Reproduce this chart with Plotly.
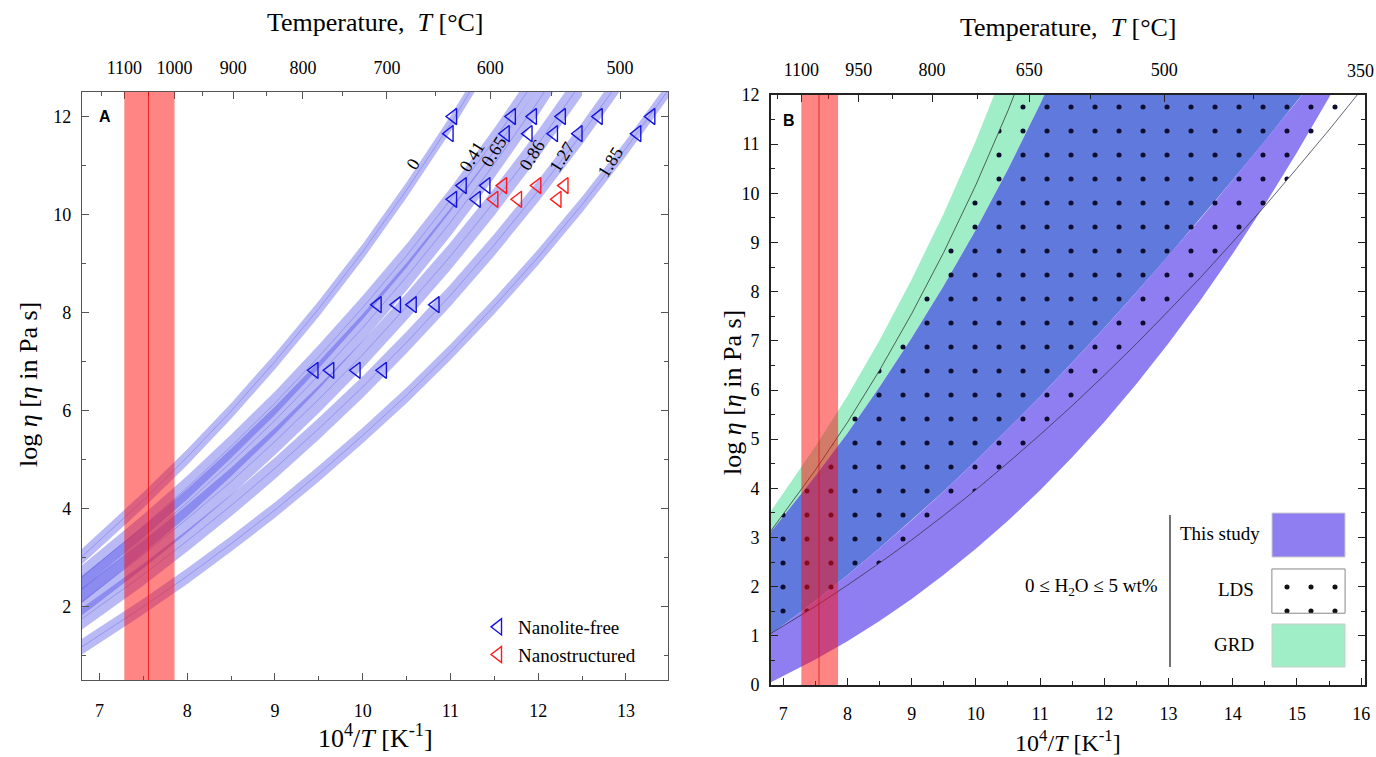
import plotly.graph_objects as go

W, H = 1376, 757
SERIF = "Liberation Serif"

# ---------------- Panel A data ----------------
xa_grid = [6.8, 7.5, 8.0, 8.5, 9.0, 9.5, 10.0, 10.5, 11.0, 11.5, 12.0, 12.5, 13.0, 13.5]
band_labels = ["0", "0.41", "0.65", "0.86", "1.27", "1.85"]
band_0 = [3.02, 4.17, 5.05, 5.99, 7.00, 8.08, 9.24, 10.50, 11.85, 13.32]
band_041 = [2.60, 3.64, 4.43, 5.27, 6.15, 7.10, 8.10, 9.16, 10.30, 11.52, 12.83]
band_065 = [2.35, 3.36, 4.12, 4.94, 5.80, 6.72, 7.69, 8.73, 9.84, 11.03, 12.31, 13.69]
band_086 = [2.10, 3.06, 3.79, 4.55, 5.37, 6.23, 7.14, 8.12, 9.15, 10.26, 11.44, 12.71]
band_127 = [1.75, 2.65, 3.34, 4.06, 4.82, 5.63, 6.48, 7.39, 8.35, 9.38, 10.48, 11.65, 12.91]
band_185 = [1.18, 2.00, 2.62, 3.28, 3.97, 4.71, 5.49, 6.31, 7.19, 8.13, 9.13, 10.20, 11.35, 12.58]
band_halfwidth = [0.16, 0.24, 0.28, 0.28, 0.22, 0.16]

nanolite_free_x = [11.03, 10.99, 11.70, 11.63, 11.94, 11.89, 12.27, 12.18, 12.69, 12.46, 13.29, 13.13,
                   11.14, 11.03, 11.41, 11.30, 10.17, 10.39, 10.57, 10.83, 9.45, 9.63, 9.93, 10.23]
nanolite_free_y = [12.0, 11.65, 12.0, 11.65, 12.0, 11.65, 12.0, 11.65, 12.0, 11.65, 12.0, 11.65,
                   10.59, 10.31, 10.59, 10.31, 8.16, 8.16, 8.16, 8.16, 6.82, 6.82, 6.82, 6.82]
nanostructured_x = [11.60, 11.50, 11.99, 11.77, 12.30, 12.22]
nanostructured_y = [10.59, 10.31, 10.59, 10.31, 10.59, 10.31]

# eruption temperature range (degC)
red_band_T = [1100, 1000]
red_center_T = 1050

# top axis temperatures
topA_major = [1100, 1000, 900, 800, 700, 600, 500]
topA_minor = [1150, 1050, 950, 850, 750, 650, 550, 450]
topB_major = [1100, 950, 800, 650, 500, 350]
topB_minor = [1175, 1025, 875, 725, 575, 425]

# ---------------- Panel B data ----------------
xb_grid = [6.8, 7.5, 8.0, 8.5, 9.0, 9.5, 10.0, 10.5, 11.0, 11.5, 12.0, 12.5, 13.0,
           13.5, 14.0, 14.5, 15.0, 15.5, 16.0]
grd_upper = [3.52, 4.85, 5.88, 7.01, 8.25, 9.59, 11.07, 12.71]
study_upper = [3.10, 4.25, 5.12, 6.06, 7.06, 8.12, 9.26, 10.49, 11.81, 13.23]
grd_lower = [1.02, 1.71, 2.23, 2.78, 3.35, 3.94, 4.56, 5.21, 5.87, 6.56, 7.26, 7.99, 8.73,
             9.49, 10.27, 11.06, 11.87, 12.69]
study_lower = [0.05, 0.52, 0.89, 1.30, 1.75, 2.24, 2.77, 3.34, 3.96, 4.63, 5.35, 6.12, 6.95,
               7.83, 8.77, 9.77, 10.83, 11.95, 13.14]
lds_upper = [3.12, 4.37, 5.34, 6.40, 7.55, 8.80, 10.17, 11.68, 13.35]
lds_lower = [1.04, 1.60, 2.03, 2.48, 2.95, 3.45, 3.97, 4.52, 5.09, 5.68, 6.30, 6.94, 7.61,
             8.29, 9.01, 9.74, 10.51, 11.29, 12.10]


def inv(T):
    return 1e4 / (T + 273.15)


def px(x):
    return x / W


def py(y):
    return 1 - y / H


fig = go.Figure()

# ---- Panel A bands ----
band_centers = [band_0, band_041, band_065, band_086, band_127, band_185]
for c, hw in zip(band_centers, band_halfwidth):
    xs = xa_grid[:len(c)]
    up = [v + hw for v in c]
    lo = [v - hw for v in c]
    fig.add_trace(go.Scatter(x=xs + xs[::-1], y=up + lo[::-1], fill="toself",
                             fillcolor="rgba(60,60,230,0.36)", mode="lines",
                             line=dict(width=0), hoverinfo="skip", showlegend=False,
                             xaxis="x", yaxis="y"))
    fig.add_trace(go.Scatter(x=xs, y=c, mode="lines",
                             line=dict(color="rgba(70,70,220,0.45)", width=0.7),
                             hoverinfo="skip", showlegend=False, xaxis="x", yaxis="y"))

fig.add_trace(go.Scatter(x=nanolite_free_x, y=nanolite_free_y, mode="markers",
                         name="Nanolite-free",
                         marker=dict(symbol="triangle-left-open", size=14,
                                     color="#1414d8", line=dict(width=1.4, color="#1414d8")),
                         xaxis="x", yaxis="y"))
fig.add_trace(go.Scatter(x=nanostructured_x, y=nanostructured_y, mode="markers",
                         name="Nanostructured",
                         marker=dict(symbol="triangle-left-open", size=14,
                                     color="#ff1a1a", line=dict(width=1.4, color="#ff1a1a")),
                         xaxis="x", yaxis="y"))


# ---- Panel B regions ----
def region(xu, yu, xl, yl, color):
    fig.add_trace(go.Scatter(x=xu + xl[::-1], y=yu + yl[::-1], fill="toself",
                             fillcolor=color, mode="lines", line=dict(width=0),
                             hoverinfo="skip", showlegend=False, xaxis="x2", yaxis="y2"))


region(xb_grid[:len(grd_upper)], grd_upper, xb_grid[:len(study_upper)], study_upper, "#a0eec8")
region(xb_grid[:len(study_upper)], study_upper, xb_grid[:len(grd_lower)], grd_lower, "#6079dc")
region(xb_grid[:len(grd_lower)], grd_lower, xb_grid[:len(study_lower)], study_lower, "#8f7ef2")

DOTS = dict(shape=".", size=24, solidity=0.035, fgcolor="#0d0d30", fgopacity=1,
            bgcolor="rgba(0,0,0,0)")

# LDS dotted region
xu = xb_grid[:len(lds_upper)]
xl = xb_grid[:len(lds_lower)]
fig.add_trace(go.Scatter(x=xu + xl[::-1], y=lds_upper + lds_lower[::-1], fill="toself",
                         fillcolor="rgba(0,0,0,0)", mode="lines", line=dict(width=0),
                         fillpattern=DOTS,
                         hoverinfo="skip", showlegend=False, xaxis="x2", yaxis="y2"))
fig.add_trace(go.Scatter(x=xu, y=lds_upper, mode="lines",
                         line=dict(color="rgba(50,50,50,0.85)", width=0.9),
                         hoverinfo="skip", showlegend=False, xaxis="x2", yaxis="y2"))
fig.add_trace(go.Scatter(x=xl, y=lds_lower, mode="lines",
                         line=dict(color="rgba(50,50,70,0.85)", width=0.9),
                         hoverinfo="skip", showlegend=False, xaxis="x2", yaxis="y2"))

# LDS legend swatch (in B data coordinates)
sw_x = [14.61, 15.75, 15.75, 14.61, 14.61]
sw_y = [2.36, 2.36, 1.46, 1.46, 2.36]
fig.add_trace(go.Scatter(x=sw_x, y=sw_y, fill="toself", fillcolor="white",
                         mode="lines", line=dict(color="#888888", width=1),
                         fillpattern=dict(shape=".", size=24, solidity=0.035, fgcolor="#111111",
                                          fgopacity=1, bgcolor="white"),
                         hoverinfo="skip", showlegend=False, xaxis="x2", yaxis="y2"))

# ---- shapes ----
shapes = []
for xr, yr in [("x", "y domain"), ("x2", "y2 domain")]:
    shapes.append(dict(type="rect", xref=xr, yref=yr, x0=inv(red_band_T[0]), x1=inv(red_band_T[1]),
                       y0=0, y1=1, fillcolor="rgba(255,10,10,0.5)", line=dict(width=0),
                       layer="above"))
    shapes.append(dict(type="line", xref=xr, yref=yr, x0=inv(red_center_T), x1=inv(red_center_T),
                       y0=0, y1=1, line=dict(color="rgba(230,0,0,0.7)", width=1), layer="above"))

# legend B decorations
shapes.append(dict(type="line", xref="paper", yref="paper", x0=px(1170), x1=px(1170),
                   y0=py(515), y1=py(667), line=dict(color="#444", width=1.5)))
shapes.append(dict(type="rect", xref="paper", yref="paper", x0=px(1272), x1=px(1345),
                   y0=py(557), y1=py(513), fillcolor="#8f7ef2", line=dict(color="#cccccc", width=1)))
shapes.append(dict(type="rect", xref="paper", yref="paper", x0=px(1272), x1=px(1345),
                   y0=py(667), y1=py(624), fillcolor="#a0eec8", line=dict(color="#cccccc", width=1)))

# ---- annotations ----
ann = []
TITLE = dict(family=SERIF, size=26, color="black")
TITLE_B = dict(family=SERIF, size=24, color="black")
TICKF = dict(family=SERIF, size=18, color="black")


def note(text, x, y, font, **kw):
    d = dict(text=text, x=px(x), y=py(y), xref="paper", yref="paper", showarrow=False,
             xanchor="center", yanchor="middle", font=font)
    d.update(kw)
    ann.append(d)


note("Temperature,  <i>T</i> [°C]", 375, 22, TITLE)
note("Temperature,  <i>T</i> [°C]", 1068, 28, TITLE)
note("10<sup>4</sup>/<i>T</i> [K<sup>-1</sup>]", 375, 736, TITLE)
note("10<sup>4</sup>/<i>T</i> [K<sup>-1</sup>]", 1068, 741, TITLE_B)
note("log <i>η</i> [<i>η</i> in Pa s]", 28, 385, TITLE, textangle=-90)
note("log <i>η</i> [<i>η</i> in Pa s]", 732, 392, TITLE, textangle=-90)
note("<b>A</b>", 105, 117, dict(family="Liberation Sans", size=16, color="black"))
note("<b>B</b>", 789, 120, dict(family="Liberation Sans", size=16, color="black"))

label_pos_x = [10.57, 11.24, 11.50, 11.93, 12.27, 12.82]
label_pos_y = [11.04, 11.18, 11.29, 11.22, 11.18, 11.08]
for lab, lx, ly in zip(band_labels, label_pos_x, label_pos_y):
    ann.append(dict(text=lab, x=lx, y=ly, xref="x", yref="y", showarrow=False, textangle=-58,
                    xanchor="center", yanchor="middle",
                    font=dict(family=SERIF, size=18, color="black")))

LEG = dict(family=SERIF, size=19, color="black")
note("0 ≤ H<sub>2</sub>O ≤ 5 wt%", 1160, 587, LEG, xanchor="right")
note("This study", 1262, 533, LEG, xanchor="right")
note("LDS", 1256, 589, LEG, xanchor="right")
note("GRD", 1256, 644, LEG, xanchor="right")

# last top-axis label of panel B sits at the figure edge: drawn right-aligned
topB_text = [str(t) for t in topB_major]
ann.append(dict(text=topB_text[-1], x=1.0, y=py(71), xref="paper", yref="paper",
                xanchor="right", yanchor="middle", showarrow=False, font=TICKF))
topB_text[-1] = ""


# ---- axes ----
def ax_common(color, lw):
    return dict(showgrid=False, zeroline=False, ticks="inside", showline=True, linecolor=color,
                linewidth=lw, tickcolor=color, ticklen=7, tickwidth=1.2, tickfont=TICKF,
                automargin=False)


A_col, B_col = "#555555", "#222222"
xa_range = [6.8, 13.48]
xb_range = [6.81, 16.06]

layout = dict(
    width=W, height=H, margin=dict(l=0, r=0, t=0, b=0, autoexpand=False),
    paper_bgcolor="white", plot_bgcolor="white",
    shapes=shapes, annotations=ann,
    legend=dict(x=px(478), y=py(608), xanchor="left", yanchor="top", bgcolor="rgba(0,0,0,0)",
                font=dict(family=SERIF, size=19, color="black"), tracegroupgap=0),
    xaxis=dict(**ax_common(A_col, 1.2), domain=[px(82), px(668)], range=xa_range, anchor="y",
               tickmode="linear", tick0=0, dtick=1, ticklabelstandoff=14,
               minor=dict(ticks="inside", dtick=0.5, ticklen=4, tickcolor=A_col)),
    xaxis3=dict(**ax_common(A_col, 1.2), overlaying="x", side="top", anchor="y", range=xa_range,
                tickmode="array", tickvals=[inv(t) for t in topA_major],
                ticktext=[str(t) for t in topA_major], ticklabelstandoff=10,
                minor=dict(ticks="inside", tickmode="array", tickvals=[inv(t) for t in topA_minor],
                           ticklen=4, tickcolor=A_col)),
    yaxis=dict(**ax_common(A_col, 1.2), domain=[py(680), py(92)], range=[0.5, 12.5], anchor="x",
               tickmode="linear", tick0=0, dtick=2, mirror="ticks", ticklabelstandoff=6,
               minor=dict(ticks="inside", dtick=1, ticklen=4, tickcolor=A_col)),
    xaxis2=dict(**ax_common(B_col, 1.6), domain=[px(771), px(1365)], range=xb_range, anchor="y2",
                tickmode="linear", tick0=0, dtick=1, ticklabelstandoff=12,
                minor=dict(ticks="inside", dtick=0.5, ticklen=4, tickcolor=B_col)),
    xaxis4=dict(**ax_common(B_col, 1.6), overlaying="x2", side="top", anchor="y2", range=xb_range,
                tickmode="array", tickvals=[inv(t) for t in topB_major],
                ticktext=topB_text, ticklabelstandoff=10,
                minor=dict(ticks="inside", tickmode="array", tickvals=[inv(t) for t in topB_minor],
                           ticklen=4, tickcolor=B_col)),
    yaxis2=dict(**ax_common(B_col, 1.6), domain=[py(685), py(95)], range=[0, 12], anchor="x2",
                tickmode="linear", tick0=0, dtick=1, mirror="ticks", ticklabelstandoff=6,
                minor=dict(ticks="inside", dtick=0.5, ticklen=4, tickcolor=B_col)),
)
fig.update_layout(**layout)

# empty traces to activate the top temperature axes
fig.add_trace(go.Scatter(x=[None], y=[None], xaxis="x3", yaxis="y", showlegend=False, hoverinfo="skip"))
fig.add_trace(go.Scatter(x=[None], y=[None], xaxis="x4", yaxis="y2", showlegend=False, hoverinfo="skip"))

fig.write_html("out.html")
